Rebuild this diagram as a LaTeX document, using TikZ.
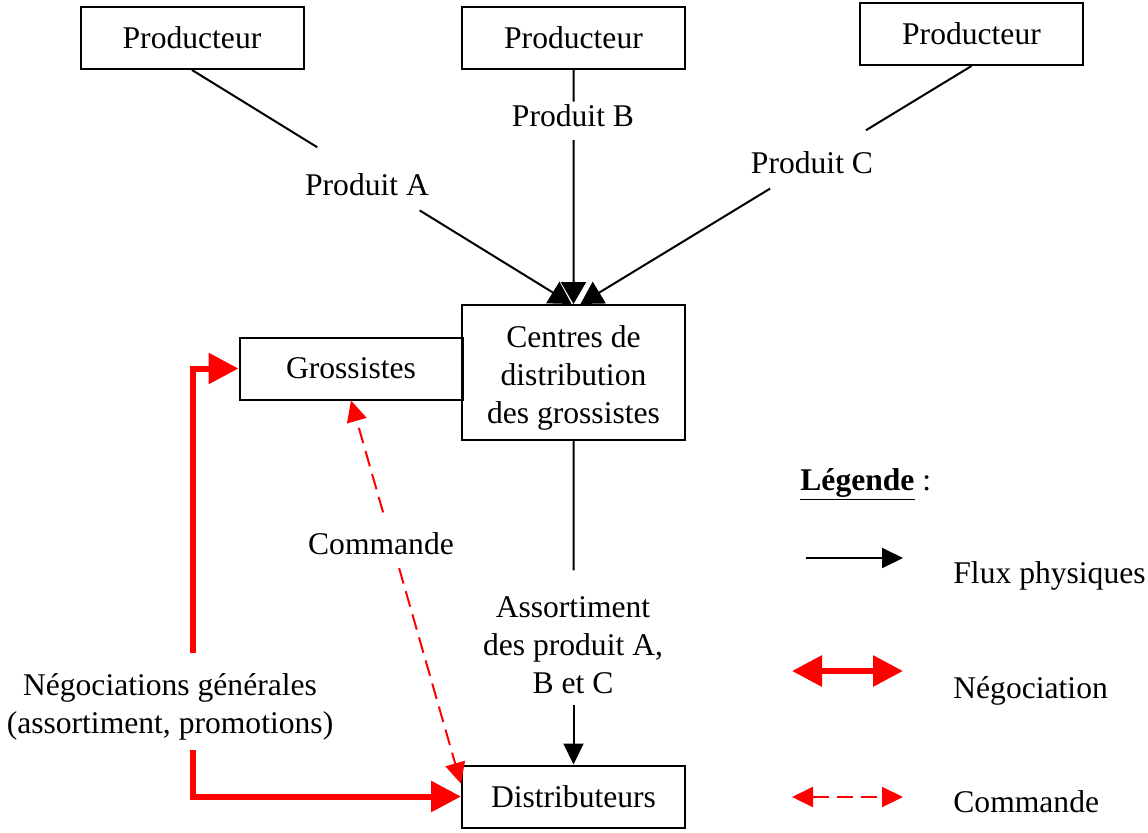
\documentclass[tikz,border=0pt]{standalone}
\usepackage{fontspec}
\setmainfont{Liberation Serif}
\usetikzlibrary{arrows.meta,calc}
\begin{document}
\begin{tikzpicture}[x=0.5pt,y=-0.5pt,
  font=\fontsize{15.8}{19}\selectfont,
  box/.style={draw,line width=1pt,minimum width=111.5pt,minimum height=31pt,inner sep=0pt,align=center},
  lbl/.style={align=center,inner sep=0pt},
  flux/.style={line width=1pt},
  fluxarrow/.style={line width=1pt,-{Triangle[length=10.5pt,width=10pt]}},
  bigflux/.style={line width=1pt,-{Triangle[length=11pt,width=12.5pt]}},
  nego/.style={draw=red,line width=3pt,line join=miter,-{Triangle[length=15pt,width=15pt]}},
  negoboth/.style={draw=red,line width=3pt,{Triangle[length=15pt,width=15pt]}-{Triangle[length=15pt,width=15pt]}},
  cmd/.style={draw=red,line width=1pt,dash pattern=on 8pt off 4pt,-{Triangle[length=10.5pt,width=10pt]}},
  cmdboth/.style={draw=red,line width=1pt,dash pattern=on 8pt off 4pt,{Triangle[length=10.5pt,width=10pt]}-{Triangle[length=10.5pt,width=10pt]}},
  legtext/.style={anchor=base west,inner sep=0pt}
]
\useasboundingbox (0,0) rectangle (1148,832);

% boxes
\node[box] (p1) at (192,38) {Producteur};
\node[box] (p2) at (573.5,38) {Producteur};
\node[box] (p3) at (971.5,34) {Producteur};
\node[box,minimum height=67.5pt] (cen) at (573.5,372.5) {};
\node[lbl] (centext) at (573.5,378) {Centres de\\distribution\\des grossistes};
\node[box] (gro) at (351,368.5) {Grossistes};
\node[box] (dis) at (573.5,796.5) {Distributeurs};

% labels
\node[lbl] (pa) at (367,185) {Produit A};
\node[lbl] (pb) at (573,116) {Produit B};
\node[lbl] (pc) at (812,163) {Produit C};
\node[lbl] (cmdl) at (381,544) {Commande};
\node[lbl] (asso) at (573,645) {Assortiment\\des produit A,\\B et C};
\node[lbl] (negl) at (170,707) {Négociations générales\\(assortiment, promotions)};

% physical flows
\coordinate (t1) at ($(cen.north)+(-2,0)$);
\coordinate (t3) at ($(cen.north)+(7,0)$);
\draw[flux] (p1.south) -- ($(p1.south)!0.33!(t1)$);
\draw[bigflux] ($(p1.south)!0.60!(t1)$) -- (t1);
\draw[flux] (p2.south) -- ($(p2.south)!0.135!(cen.north)$);
\draw[bigflux] ($(p2.south)!0.30!(cen.north)$) -- (cen.north);
\draw[flux] (p3.south) -- ($(p3.south)!0.27!(t3)$);
\draw[bigflux] ($(p3.south)!0.515!(t3)$) -- (t3);
\draw[flux] (cen.south) -- ($(cen.south)!0.40!(dis.north)$);
\draw[fluxarrow] ($(cen.south)!0.815!(dis.north)$) -- (dis.north);

% commande
\coordinate (dl) at ($(dis.north west)!0.3!(dis.south west)$);
\draw[cmd] ($(dl)!0.5625!(gro.south)$) -- (dl);
\draw[cmd] ($(dl)!0.708!(gro.south)$) -- (gro.south);

% negociation
\coordinate (nu) at (193,653);
\coordinate (nd) at (193,750);
\draw[nego] (nu) |- (gro.west);
\draw[nego] (nd) |- (dis.west);

% legend
\node[legtext] (leg) at (800,490) {\textbf{\underline{Légende}} :};
\coordinate (f1) at (806,558);
\coordinate (f2) at (903,558);
\draw[fluxarrow] (f1) -- (f2);
\node[legtext] (lf) at (953,583) {Flux physiques};
\coordinate (n1) at (792,671);
\coordinate (n2) at (903,671);
\draw[negoboth] (n1) -- (n2);
\node[legtext] (ln) at (953,698) {Négociation};
\coordinate (c1) at (792,797);
\coordinate (c2) at (903,797);
\draw[cmdboth] (c1) -- (c2);
\node[legtext] (lc) at (953,812) {Commande};
\end{tikzpicture}
\end{document}
